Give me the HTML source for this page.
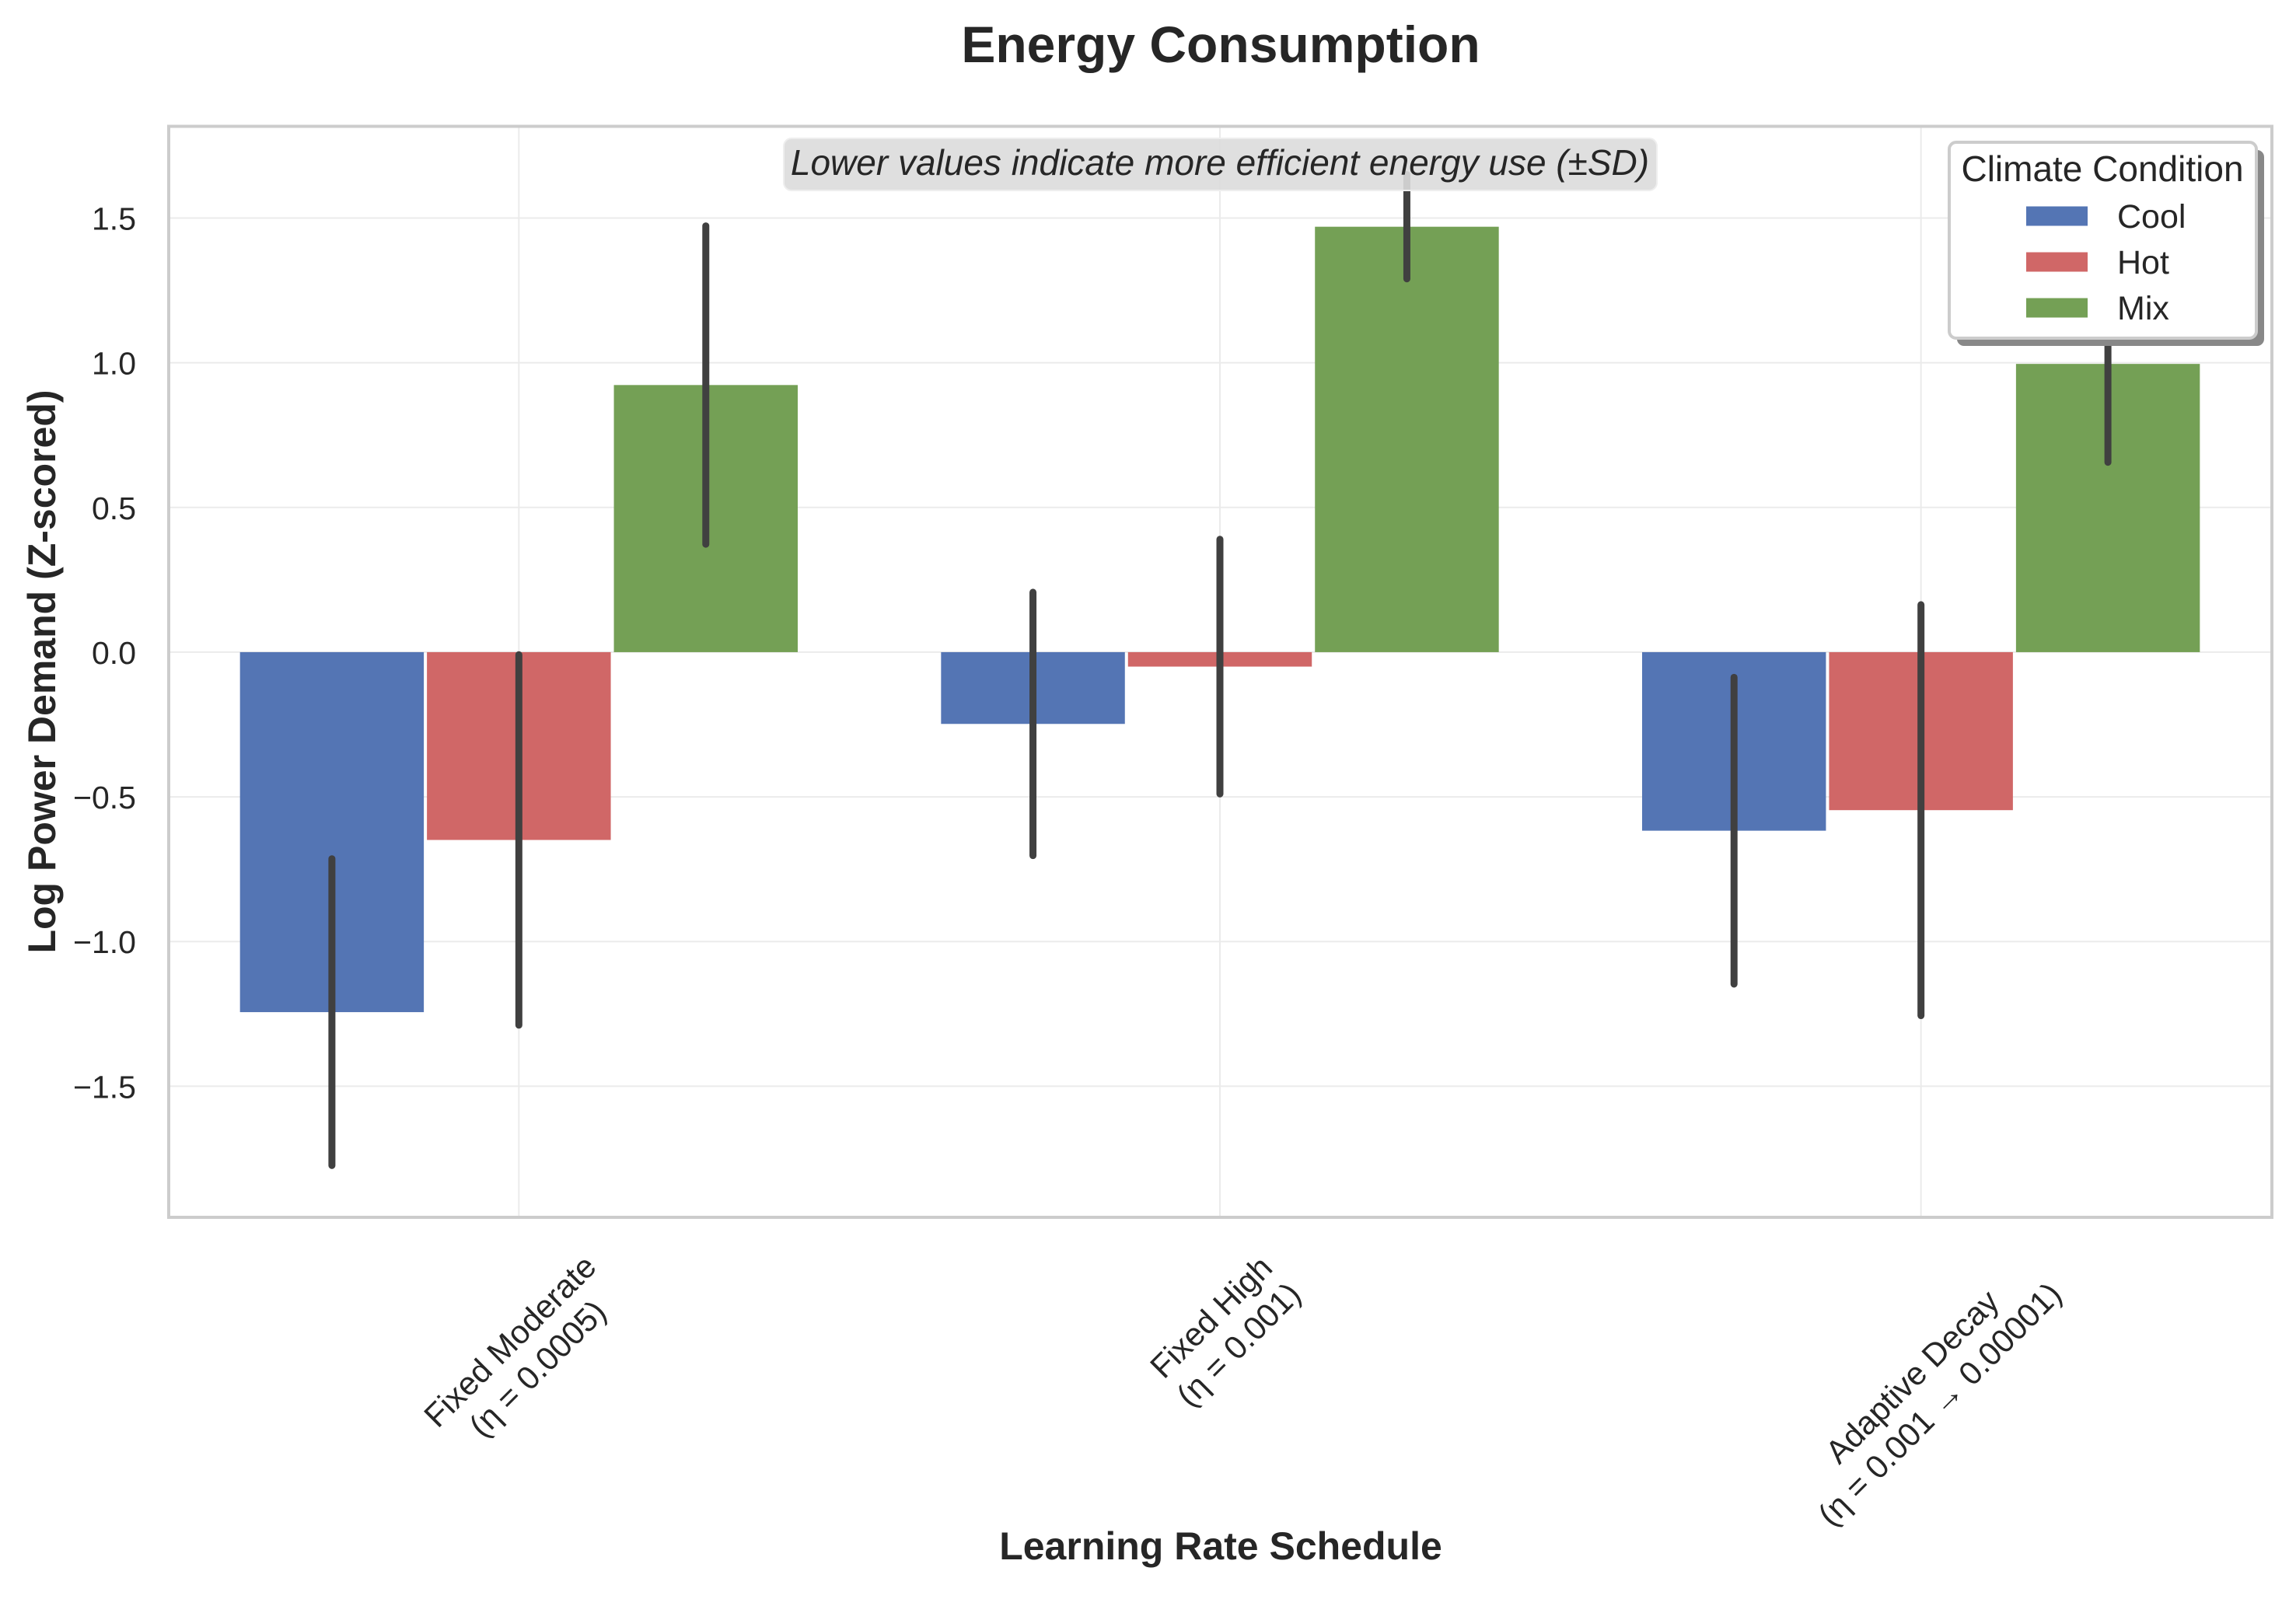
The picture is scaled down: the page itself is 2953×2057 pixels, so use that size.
<!DOCTYPE html>
<html><head><meta charset="utf-8"><style>
html,body{margin:0;padding:0;background:#fff}
svg text{font-family:"Liberation Sans","DejaVu Sans",sans-serif;fill:#262626}
</style></head><body>
<svg id="chart" xmlns="http://www.w3.org/2000/svg" width="2953" height="2052" viewBox="0 0 2953 2052">
<rect x="0" y="0" width="2953" height="2052" fill="#fff"/>
<text x="1570" y="80" font-size="66" font-weight="bold" text-anchor="middle">Energy Consumption</text>
<g id="grid"></g>
<g id="bars"></g>
<g id="errs"></g>
<rect x="217" y="162.5" width="2705" height="1403.5" fill="none" stroke="#cccccc" stroke-width="4"/>
<g id="yticks"></g>
<g id="xticks"></g>
<text transform="translate(71,864) rotate(-90)" font-size="50" font-weight="bold" text-anchor="middle">Log Power Demand (Z-scored)</text>
<text x="1570" y="2006" font-size="50" font-weight="bold" text-anchor="middle">Learning Rate Schedule</text>
<g>
<rect x="1008" y="178" width="1123" height="67" rx="10" fill="#dcdcdc" fill-opacity="0.9" stroke="#eeeeee" stroke-width="2"/>
<text x="1569" y="225" font-size="46" font-style="italic" text-anchor="middle">Lower values indicate more efficient energy use (±SD)</text>
</g>
<g>
<rect x="2517" y="193" width="395" height="252" rx="9" fill="#888"/>
<rect x="2507" y="183" width="395" height="252" rx="9" fill="#fff" stroke="#cccccc" stroke-width="4"/>
<text x="2704" y="233" font-size="46" text-anchor="middle">Climate Condition</text>
<g id="legitems"></g>
</g>
</svg>
<script>
const categories = ["Fixed Moderate\n(η = 0.0005)", "Fixed High\n(η = 0.001)", "Adaptive Decay\n(η = 0.001 → 0.00001)"];
const seriesNames = ["Cool", "Hot", "Mix"];
const coolValues = [-1.244, -0.248, -0.617];
const hotValues = [-0.649, -0.05, -0.546];
const mixValues = [0.923, 1.47, 0.996];
const coolSD = [0.53, 0.455, 0.53];
const hotSD = [0.64, 0.44, 0.71];
const mixSD = [0.55, 0.18, 0.34];
const yTicks = [-1.5, -1.0, -0.5, 0.0, 0.5, 1.0, 1.5];

const NS = "http://www.w3.org/2000/svg";
const colors = ["#5475b4", "#d06767", "#74a055"];
const plotLeft = 217, plotRight = 2922, plotTop = 162.5, plotBottom = 1566;
const yMin = -1.953, yMax = 1.817;
function yScale(v){ return plotBottom - (v - yMin) / (yMax - yMin) * (plotBottom - plotTop); }
const step = (plotRight - plotLeft) / 3;
function xScale(i){ return plotLeft + step * (i + 0.5) - 0.5; }
const bw = step * 0.8 / 3;
function mk(tag, attrs, parent){ const e = document.createElementNS(NS, tag); for (const k in attrs) e.setAttribute(k, attrs[k]); parent.appendChild(e); return e; }

const grid = document.getElementById('grid');
const ytG = document.getElementById('yticks');
yTicks.forEach(t => {
  const l = mk('line', {x1:plotLeft, x2:plotRight, y1:yScale(t), y2:yScale(t), stroke:'#ebebeb', 'stroke-width':2}, grid);
  
  
  const tx = mk('text', {x:175, y:yScale(t)+15, 'font-size':41, 'text-anchor':'end'}, ytG);
  
  
  tx.textContent = (t < 0 ? '\u2212' : '') + Math.abs(t).toFixed(1);
});
categories.forEach((c, i) => {
  const l = mk('line', {x1:xScale(i), x2:xScale(i), y1:plotTop, y2:plotBottom, stroke:'#ebebeb', 'stroke-width':2}, grid);
  
  
});

const vals = [coolValues, hotValues, mixValues];
const sds = [coolSD, hotSD, mixSD];
const barsG = document.getElementById('bars'), errG = document.getElementById('errs');
vals.forEach((arr, s) => {
  arr.forEach((v, i) => {
    const cx = xScale(i) + (s - 1) * bw;
    const y0 = yScale(0), y1 = yScale(v);
    const r = mk('rect', {x:cx - bw/2 + 2, width:bw - 4, y:Math.min(y0, y1), height:Math.abs(y1 - y0), fill:colors[s]}, barsG);
    
    
    const e = mk('line', {x1:cx, x2:cx, y1:yScale(v + sds[s][i]), y2:yScale(v - sds[s][i]), stroke:'#404040', 'stroke-width':9, 'stroke-linecap':'round'}, errG);
    
    
  });
});

const xt = document.getElementById('xticks');
categories.forEach((c, i) => {
  const lines = c.split('\n');
  const g = mk('g', {}, xt);
  
  
  const L = 50;
  const ts = lines.map((ln, k) => {
    const t = mk('text', {x:0, y:37 + k*L, 'font-size':42, 'text-anchor':'middle'}, g);
    t.textContent = ln;
    return t;
  });
  let W = 0; ts.forEach(t => { W = Math.max(W, t.getComputedTextLength()); });
  const H = lines.length * L;
  const tx = xScale(i) - 0.3535 * H + 8;
  const ty = 1606 + 0.3535 * W;
  g.setAttribute('transform', 'translate(' + tx + ',' + ty + ') rotate(-45)');
});

const lg = document.getElementById('legitems');
seriesNames.forEach((n, s) => {
  const cy = 278 + s * 59;
  const r = mk('rect', {x:2606, y:cy - 12.5, width:79, height:25, fill:colors[s]}, lg);
  
  
  const t = mk('text', {x:2723, y:cy + 15, 'font-size':43}, lg);
  
  
  t.textContent = n;
});
</script>
</body></html>
